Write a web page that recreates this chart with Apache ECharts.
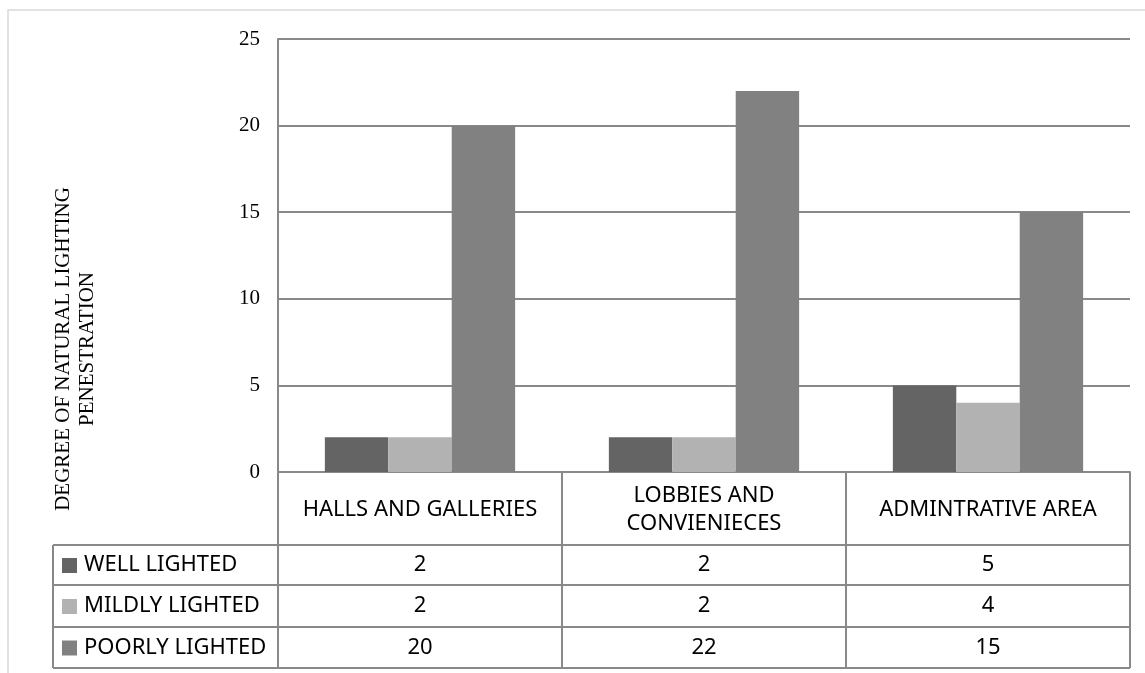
<!DOCTYPE html>
<html style="height: 100%">
    <head>
        <title>Natural lighting penetration</title>
        <meta charset="utf-8">
    </head>
    <body style="height: 100%; margin: 0; background: #fff">
        <div id="container" style="width: 1145px; height: 673px"></div>

        <script type="text/javascript" src="https://cdn.jsdelivr.net/npm/echarts@6.0.0/dist/echarts.min.js"></script>
        <script type="text/javascript">
            var categories = ['HALLS AND GALLERIES', 'LOBBIES AND\nCONVIENIECES', 'ADMINTRATIVE AREA'];
            var seriesNames = ['WELL LIGHTED', 'MILDLY LIGHTED', 'POORLY LIGHTED'];
            var wellLighted = [2, 2, 5];
            var mildlyLighted = [2, 2, 4];
            var poorlyLighted = [20, 22, 15];
            var yTicks = [0, 5, 10, 15, 20, 25];
            var yTitle = 'DEGREE OF NATURAL LIGHTING\nPENESTRATION';

            var colors = ['#646464', '#b2b2b2', '#818181'];
            var lineColor = '#898989';
            var tableFont = '22px "Noto Sans"';

            var dom = document.getElementById("container");
            var myChart = echarts.init(dom);
            var seriesData = [wellLighted, mildlyLighted, poorlyLighted];

            var option = {
                backgroundColor: '#fff',
                animation: false,
                grid: { left: 278, top: 39, right: 15, bottom: 201 },
                xAxis: {
                    type: 'category',
                    data: categories,
                    axisLine: { lineStyle: { color: lineColor, width: 2 } },
                    axisTick: { show: false },
                    axisLabel: { show: false }
                },
                yAxis: {
                    type: 'value',
                    min: yTicks[0],
                    max: yTicks[yTicks.length - 1],
                    interval: 5,
                    axisLine: { show: true, lineStyle: { color: lineColor, width: 2 } },
                    axisTick: { show: false },
                    splitLine: { lineStyle: { color: lineColor, width: 2 } },
                    axisLabel: {
                        color: '#000',
                        fontFamily: 'Liberation Serif',
                        fontSize: 21,
                        margin: 18
                    }
                },
                series: seriesNames.map(function (name, i) {
                    return {
                        name: name,
                        type: 'bar',
                        data: seriesData[i],
                        barGap: 0,
                        barCategoryGap: '33%',
                        itemStyle: { color: colors[i] }
                    };
                })
            };
            myChart.setOption(option);

            function hLine(x1, x2, y) {
                return { type: 'line', shape: { x1: x1, y1: y, x2: x2, y2: y }, style: { stroke: lineColor, lineWidth: 2 }, z: 10 };
            }
            function vLine(x, y1, y2) {
                return { type: 'line', shape: { x1: x, y1: y1, x2: x, y2: y2 }, style: { stroke: lineColor, lineWidth: 2 }, z: 10 };
            }
            function cellText(x, y, text, align) {
                return {
                    type: 'text', x: x, y: y, z: 11,
                    style: { text: text, font: tableFont, fill: '#000', align: align || 'center', verticalAlign: 'middle', lineHeight: 28 }
                };
            }

            function buildTable() {
                var c0 = myChart.convertToPixel({ xAxisIndex: 0 }, categories[0]);
                var c1 = myChart.convertToPixel({ xAxisIndex: 0 }, categories[1]);
                var cw = c1 - c0;
                var left = c0 - cw / 2;
                var right = left + cw * categories.length;
                var yBase = myChart.convertToPixel({ yAxisIndex: 0 }, 0);
                var rows = [yBase, yBase + 73, yBase + 113, yBase + 155, yBase + 196];
                var headLeft = 53;
                var els = [];

                // outer frame
                els.push({ type: 'rect', shape: { x: 8, y: 10, width: 1160, height: 700 }, style: { fill: null, stroke: '#d9d9d9', lineWidth: 1.5 }, z: 0 });

                // horizontal table lines
                for (var r = 1; r < rows.length; r++) {
                    els.push(hLine(headLeft, right, rows[r]));
                }
                // vertical table lines
                els.push(vLine(headLeft, rows[1], rows[4]));
                for (var c = 0; c <= categories.length; c++) {
                    els.push(vLine(left + cw * c, rows[0], rows[4]));
                }
                // category header
                categories.forEach(function (cat, i) {
                    var cx = myChart.convertToPixel({ xAxisIndex: 0 }, cat);
                    els.push(cellText(cx, (rows[0] + rows[1]) / 2 + 1, cat));
                });
                // data rows
                seriesNames.forEach(function (name, s) {
                    var cy = (rows[s + 1] + rows[s + 2]) / 2;
                    els.push({ type: 'rect', shape: { x: 62, y: cy - 7, width: 15, height: 15 }, style: { fill: colors[s] }, z: 11 });
                    els.push(cellText(84, cy, name, 'left'));
                    categories.forEach(function (cat, i) {
                        var cx = myChart.convertToPixel({ xAxisIndex: 0 }, cat);
                        els.push(cellText(cx, cy, String(seriesData[s][i])));
                    });
                });
                // axis title
                els.push({
                    type: 'text', x: 75, y: 349, rotation: Math.PI / 2, z: 11,
                    style: { text: yTitle, font: '21px "Liberation Serif"', fill: '#000', align: 'center', verticalAlign: 'middle', lineHeight: 24 }
                });

                myChart.setOption({ graphic: els });
            }
            buildTable();

            window.onresize = function () {
                myChart.resize();
                buildTable();
            };
        </script>
    </body>
</html>
